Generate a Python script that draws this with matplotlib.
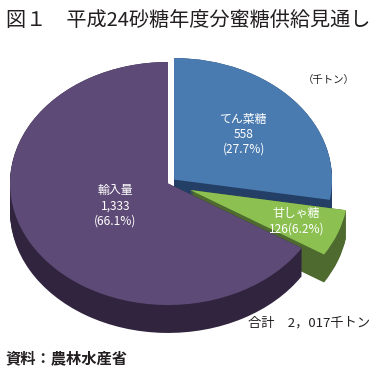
import matplotlib
matplotlib.use('Agg')
import matplotlib.pyplot as plt
import numpy as np

plt.rcParams['font.family'] = ['Noto Sans CJK JP', 'DejaVu Sans']

# data (千トン)
names = ['てん菜糖', '甘しゃ糖', '輸入量']
values = [558, 126, 1333]
value_labels = ['558', '126', '1,333']
pct_labels = ['27.7%', '6.2%', '66.1%']
explode = [0.05, 0.15, 0.0]

top_colors = ['#4A7BB0', '#8CC152', '#5D4A76']
side_colors = ['#243F66', '#4E6A2E', '#30243F']
label_join = ['\n', '', '\n']
label_dist = [0.58, 0.72, 0.38]

W, H = 381, 379
fig = plt.figure(figsize=(W / 100, H / 100), dpi=100)
ax = fig.add_axes([0, 0, 1, 1])

# pie centre / radii in pixels (ellipse -> fake 3d)
cx, cy = 168, H - 183.5
rx, ry = 158, 121.5
depth = 0.23

# side of the "3d" pie: stacked darker copies
for dy in np.linspace(-depth, 0, 26):
    ax.pie(values, explode=explode, startangle=90, counterclock=False,
           colors=side_colors, center=(0, dy), radius=1,
           wedgeprops=dict(linewidth=0))

wedges, _ = ax.pie(values, explode=explode, startangle=90, counterclock=False,
                   colors=top_colors, center=(0, 0), radius=1,
                   wedgeprops=dict(linewidth=0))

for i, w in enumerate(wedges):
    mid = np.deg2rad((w.theta1 + w.theta2) / 2)
    x0, y0 = w.center
    d = label_dist[i]
    txt = names[i] + '\n' + value_labels[i] + label_join[i] + '(' + pct_labels[i] + ')'
    ax.text(x0 + d * np.cos(mid), y0 + d * np.sin(mid), txt, color='white',
            ha='center', va='center', fontsize=8.6, linespacing=1.2)

ax.set_xlim(-cx / rx, (W - cx) / rx)
ax.set_ylim(-cy / ry, (H - cy) / ry)
ax.set_aspect('auto')
ax.axis('off')

fig.text(6 / W, 1 - 20 / H, '図１　平成24砂糖年度分蜜糖供給見通し', fontsize=14.5,
         color='#231F20', ha='left', va='center')
fig.text(329 / W, 1 - 80 / H, '（千トン）', fontsize=7.5, color='#231F20',
         ha='center', va='center')
fig.text(370 / W, 1 - 323 / H, '合計　2，017千トン', fontsize=9.5, color='#231F20',
         ha='right', va='center')
fig.text(5 / W, 1 - 358 / H, '資料：農林水産省', fontsize=11, color='#231F20',
         ha='left', va='center', fontweight='bold')

fig.savefig('out.png', dpi=100)
